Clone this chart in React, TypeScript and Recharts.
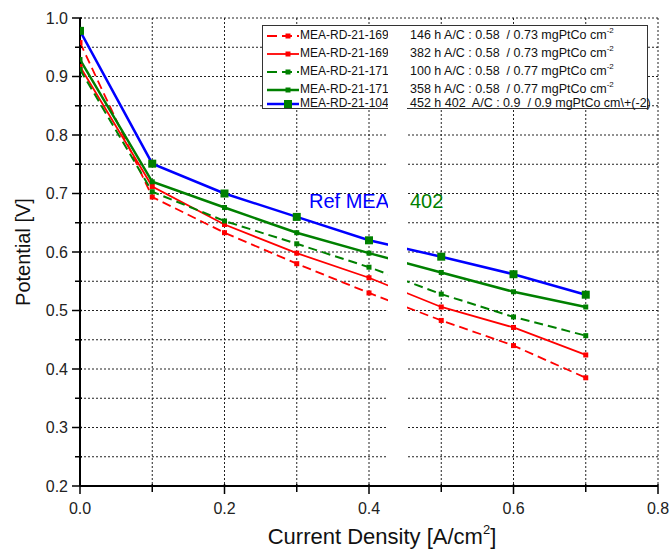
import React from 'react';
import { LineChart, Line, XAxis, YAxis, CartesianGrid } from 'recharts';

// current density [A/cm2]
const currentDensity = [0, 0.1, 0.2, 0.3, 0.4, 0.5, 0.6, 0.7];

// potential [V] per MEA
const rd169_146h = [0.958, 0.694, 0.633, 0.58, 0.53, 0.483, 0.44, 0.385];
const rd169_382h = [0.917, 0.712, 0.647, 0.598, 0.556, 0.506, 0.471, 0.424];
const rd171_100h = [0.912, 0.703, 0.653, 0.614, 0.574, 0.528, 0.489, 0.457];
const rd171_358h = [0.929, 0.72, 0.676, 0.633, 0.598, 0.565, 0.532, 0.506];
const rd104_452h = [0.978, 0.751, 0.7, 0.66, 0.62, 0.592, 0.562, 0.527];

const seriesNames = ['MEA-RD-21-169', 'MEA-RD-21-169', 'MEA-RD-21-171', 'MEA-RD-21-171', 'MEA-RD-21-104'];
const seriesNotes = [
  '146 h A/C : 0.58  / 0.73 mgPtCo cm',
  '382 h A/C : 0.58  / 0.73 mgPtCo cm',
  '100 h A/C : 0.58  / 0.77 mgPtCo cm',
  '358 h A/C : 0.58  / 0.77 mgPtCo cm',
  '452 h 402  A/C : 0.9  / 0.9 mgPtCo cm\\+(-2)',
];

const xTicks = [0, 0.1, 0.2, 0.3, 0.4, 0.5, 0.6, 0.7, 0.8];
const yTicks = [0.2, 0.25, 0.3, 0.35, 0.4, 0.45, 0.5, 0.55, 0.6, 0.65, 0.7, 0.75, 0.8, 0.85, 0.9, 0.95, 1.0];

const FONT = "'Liberation Sans', Arial, sans-serif";
const RED = '#ff0000';
const GREEN = '#008000';
const BLUE = '#0000ff';

const data = currentDensity.map((x, i) => ({
  x,
  s1: rd169_146h[i],
  s2: rd169_382h[i],
  s3: rd171_100h[i],
  s4: rd171_358h[i],
  s5: rd104_452h[i],
}));

const series = [
  { key: 's1', color: RED, marker: RED, width: 1.8, dash: '9 5', size: 5 },
  { key: 's2', color: RED, marker: RED, width: 1.8, dash: undefined, size: 5 },
  { key: 's3', color: GREEN, marker: GREEN, width: 2, dash: '9 5', size: 5 },
  { key: 's4', color: GREEN, marker: GREEN, width: 2.5, dash: undefined, size: 5 },
  { key: 's5', color: BLUE, marker: GREEN, width: 2.5, dash: undefined, size: 8 },
];

const isMajor = (v: number) => Math.round(v * 100) % 10 === 0;
const isMajorX = (v: number) => Math.round(v * 10) % 2 === 0;

const YTick = (p: any) => {
  const v = p.payload.value;
  const major = isMajor(v);
  return (
    <g>
      <line x1={p.x - (major ? 8 : 5)} x2={p.x + 2} y1={p.y} y2={p.y} stroke="#000" strokeWidth={1.5} />
      {major && (
        <text x={p.x - 12} y={p.y} textAnchor="end" dominantBaseline="central" fontSize={16} fill="#222" fontFamily={FONT}>
          {v.toFixed(1)}
        </text>
      )}
    </g>
  );
};

const XTick = (p: any) => {
  const v = p.payload.value;
  const major = isMajorX(v);
  return (
    <g>
      <line x1={p.x} x2={p.x} y1={p.y - 2} y2={p.y + (major ? 8 : 6)} stroke="#000" strokeWidth={1.5} />
      {major && (
        <text x={p.x} y={p.y + 22} textAnchor="middle" dominantBaseline="central" fontSize={16} fill="#222" fontFamily={FONT}>
          {v.toFixed(1)}
        </text>
      )}
    </g>
  );
};

const TopTick = (p: any) => (
  <line x1={p.x} x2={p.x} y1={p.y} y2={p.y + 5} stroke="#000" strokeWidth={1.2} />
);

const squareDot = (fill: string, size: number) => (p: any) => {
  if (p.cx == null || p.cy == null) return <g key={p.index} />;
  return <rect key={p.index} x={p.cx - size / 2} y={p.cy - size / 2} width={size} height={size} fill={fill} />;
};

const legendRowY = [35, 53, 71, 89, 103];

function LegendBox() {
  return (
    <div
      style={{
        position: 'absolute',
        left: 262,
        top: 25,
        width: 386,
        height: 84,
        border: '1px solid #333',
        background: '#fff',
        boxSizing: 'border-box',
        fontFamily: FONT,
        fontSize: 12,
        color: '#111',
      }}
    >
      {series.map((s, i) => {
        const top = legendRowY[i] - 25 - 7;
        return (
          <div key={s.key} style={{ position: 'absolute', left: 0, top, height: 13, width: '100%' }}>
            <svg width={36} height={14} style={{ position: 'absolute', left: 2, top: 0 }}>
              <line x1={2} x2={34} y1={7} y2={7} stroke={s.color} strokeWidth={s.width} strokeDasharray={s.dash ? '10 5' : undefined} />
              <rect x={23 - s.size / 2} y={7 - s.size / 2} width={s.size} height={s.size} fill={s.marker} />
            </svg>
            <span style={{ position: 'absolute', left: 37, top: 0, lineHeight: '13px', whiteSpace: 'pre' }}>{seriesNames[i]}</span>
            <span style={{ position: 'absolute', left: 147, top: 0, lineHeight: '13px', whiteSpace: 'pre', fontSize: 12.5 }}>
              {seriesNotes[i]}
              {i < 4 && <sup style={{ fontSize: 8, verticalAlign: 6, lineHeight: 0 }}>-2</sup>}
            </span>
          </div>
        );
      })}
    </div>
  );
}

export default function App() {
  return (
    <div style={{ position: 'absolute', left: 0, top: 0, width: 672, height: 550, background: '#fff' }}>
      <LineChart width={672} height={550} data={data} margin={{ top: 18, right: 14, bottom: 0, left: 0 }}>
        <CartesianGrid stroke="#222" strokeDasharray="2 2" strokeWidth={1} />
        <XAxis
          dataKey="x"
          type="number"
          domain={[0, 0.8]}
          ticks={xTicks}
          height={64}
          tickSize={0}
          tickMargin={0}
          tickLine={false}
          tick={<XTick />}
          axisLine={{ stroke: '#000', strokeWidth: 2 }}
          interval={0}
          allowDataOverflow
        />
        <XAxis
          xAxisId="top"
          orientation="top"
          dataKey="x"
          type="number"
          domain={[0, 0.8]}
          ticks={xTicks}
          height={0}
          tickSize={0}
          tickMargin={0}
          tickLine={false}
          tick={<TopTick />}
          axisLine={{ stroke: '#000', strokeWidth: 2 }}
          interval={0}
        />
        <YAxis
          type="number"
          domain={[0.2, 1.0]}
          ticks={yTicks}
          width={80}
          tickSize={0}
          tickMargin={0}
          tickLine={false}
          tick={<YTick />}
          axisLine={{ stroke: '#000', strokeWidth: 2 }}
          interval={0}
          allowDataOverflow
        />
        <YAxis
          yAxisId="right"
          orientation="right"
          type="number"
          domain={[0.2, 1.0]}
          ticks={yTicks}
          width={0}
          tick={false}
          tickLine={false}
          axisLine={{ stroke: '#000', strokeWidth: 2 }}
        />
        {series.map((s) => (
          <Line
            key={s.key}
            dataKey={s.key}
            type="linear"
            stroke={s.color}
            strokeWidth={s.width}
            strokeDasharray={s.dash}
            dot={squareDot(s.marker, s.size)}
            activeDot={false}
            isAnimationActive={false}
          />
        ))}
      </LineChart>

      <div
        style={{
          position: 'absolute',
          left: 23,
          top: 252,
          transform: 'translate(-50%, -50%) rotate(-90deg)',
          fontFamily: FONT,
          fontSize: 20,
          color: '#111',
          whiteSpace: 'nowrap',
        }}
      >
        Potential [V]
      </div>
      <div
        style={{
          position: 'absolute',
          left: 382,
          top: 537,
          transform: 'translate(-50%, -50%)',
          fontFamily: FONT,
          fontSize: 22,
          color: '#111',
          whiteSpace: 'nowrap',
        }}
      >
        Current Density [A/cm<sup style={{ fontSize: 13, verticalAlign: 10, lineHeight: 0 }}>2</sup>]
      </div>

      <div style={{ position: 'absolute', left: 309, top: 190, fontFamily: FONT, fontSize: 20, color: BLUE, whiteSpace: 'nowrap' }}>
        Ref MEA
      </div>
      <div style={{ position: 'absolute', left: 410, top: 190, fontFamily: FONT, fontSize: 20, color: GREEN, whiteSpace: 'nowrap' }}>
        402
      </div>

      <LegendBox />

      {/* blank strip that cuts through the original figure */}
      <div style={{ position: 'absolute', left: 388, top: 26, width: 19, height: 454, background: '#fff' }} />
    </div>
  );
}
